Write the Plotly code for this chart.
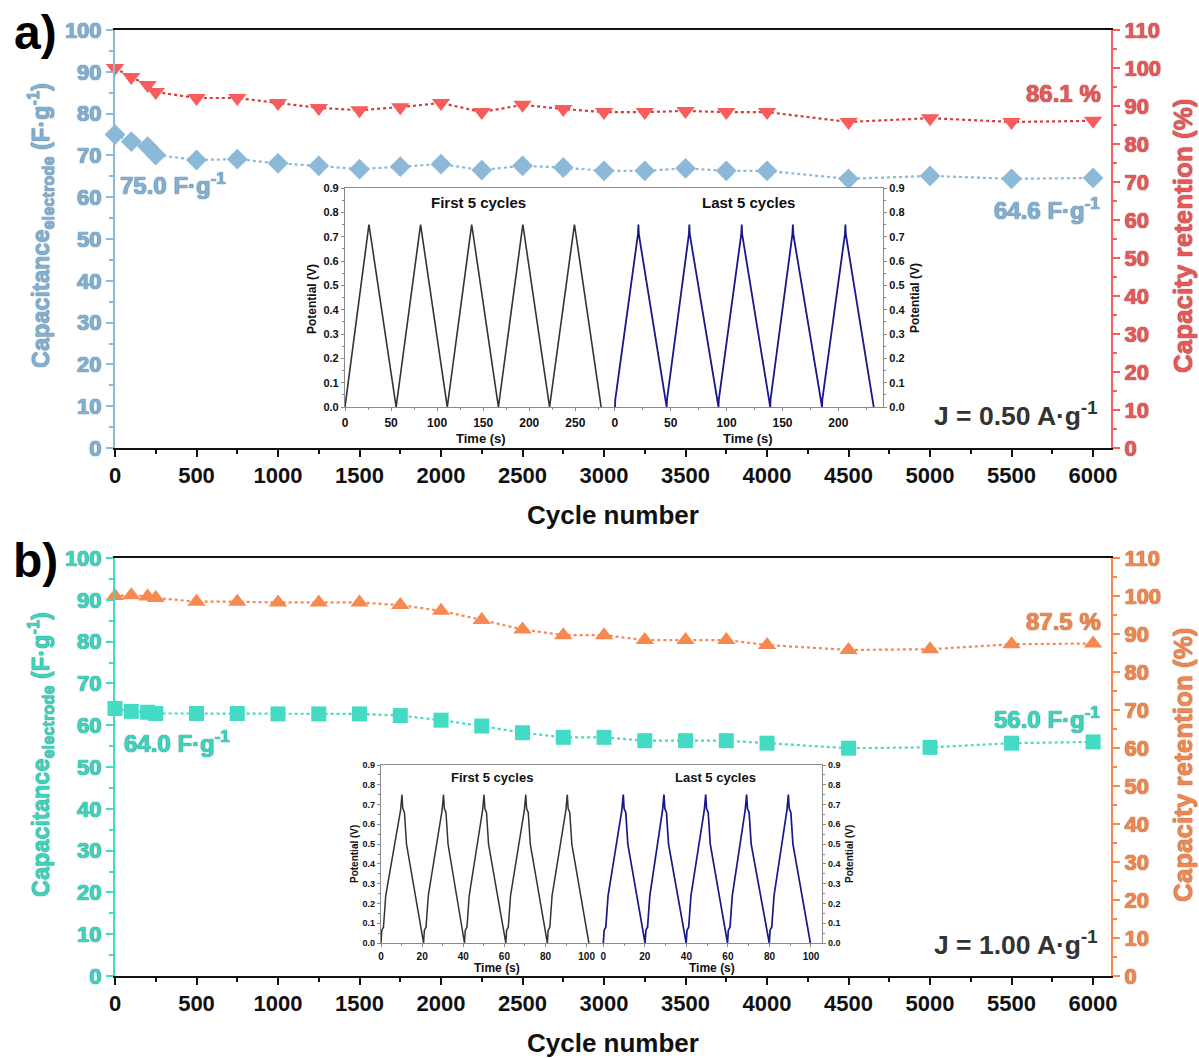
import plotly.graph_objects as go

W, H = 1199, 1059

# ---- cycling data -------------------------------------------------------
cycles = [0, 100, 200, 250, 500, 750, 1000, 1250, 1500, 1750, 2000, 2250,
          2500, 2750, 3000, 3250, 3500, 3750, 4000, 4500, 5000, 5500, 6000]

cap_a = [75.0, 73.3, 72.1, 70.1, 68.9, 69.1, 68.1, 67.5, 66.7, 67.3, 67.9, 66.5,
         67.5, 67.1, 66.3, 66.3, 66.9, 66.3, 66.3, 64.4, 65.1, 64.4, 64.6]
ret_a = [100.0, 97.6, 95.5, 93.7, 92.1, 92.1, 90.8, 89.5, 88.9, 89.7, 90.8, 88.4,
         90.3, 89.2, 88.4, 88.4, 88.7, 88.4, 88.4, 85.8, 86.8, 85.8, 86.1]

cap_b = [64.0, 63.3, 63.1, 62.8, 62.8, 62.8, 62.7, 62.7, 62.7, 62.3, 61.2, 59.8,
         58.2, 57.1, 57.1, 56.3, 56.3, 56.3, 55.7, 54.5, 54.7, 55.7, 56.0]
ret_b = [100.0, 100.2, 99.9, 99.5, 98.5, 98.5, 98.3, 98.3, 98.3, 97.6, 96.1, 93.7,
         91.2, 89.7, 89.7, 88.4, 88.4, 88.4, 87.1, 85.8, 86.0, 87.3, 87.5]

# ---- galvanostatic charge/discharge curves (insets) ----------------------
first_a_t = [0, 26, 55.5, 82, 111, 137.5, 166.5, 193, 222, 249, 278]
first_a_v = [0, 0.75, 0, 0.75, 0, 0.75, 0, 0.75, 0, 0.75, 0]

last_a_t = [0, 0.3, 20.6, 21, 21.4, 46.3, 46.6, 66.2, 66.6, 67.0,
            92.7, 93.0, 113.1, 113.5, 113.9, 139.0, 139.3, 158.9, 159.3, 159.7,
            185.4, 185.7, 205.9, 206.3, 206.7, 231.7]
last_a_v = [0, 0.03, 0.71, 0.75, 0.71, 0, 0.03, 0.71, 0.75, 0.71,
            0, 0.03, 0.71, 0.75, 0.71, 0, 0.03, 0.71, 0.75, 0.71,
            0, 0.03, 0.71, 0.75, 0.71, 0]

first_b_t = [0, 0.4, 1.2, 2.3, 9.5, 10.2, 10.6, 11.4, 12.4,
             20.7, 21.1, 21.9, 23.0, 29.7, 30.4, 30.8, 31.6, 32.6,
             40.6, 41.0, 41.8, 42.9, 49.4, 50.1, 50.5, 51.3, 52.3,
             60.7, 61.1, 61.9, 63.0, 69.7, 70.4, 70.8, 71.6, 72.6,
             80.9, 81.3, 82.1, 83.2, 89.9, 90.6, 91.0, 91.8, 92.8,
             101.1]
first_b_v = [0, 0.065, 0.08, 0.24, 0.67, 0.75, 0.68, 0.66, 0.50,
             0, 0.065, 0.08, 0.24, 0.67, 0.75, 0.68, 0.66, 0.50,
             0, 0.065, 0.08, 0.24, 0.67, 0.75, 0.68, 0.66, 0.50,
             0, 0.065, 0.08, 0.24, 0.67, 0.75, 0.68, 0.66, 0.50,
             0, 0.065, 0.08, 0.24, 0.67, 0.75, 0.68, 0.66, 0.50,
             0]

last_b_t = [0, 0.4, 1.2, 2.3, 8.9, 9.6, 10.0, 10.8, 11.8,
            20.1, 20.5, 21.3, 22.4, 28.5, 29.2, 29.6, 30.4, 31.4,
            39.9, 40.3, 41.1, 42.2, 48.6, 49.3, 49.7, 50.5, 51.5,
            59.8, 60.2, 61.0, 62.1, 68.3, 69.0, 69.4, 70.2, 71.2,
            79.9, 80.3, 81.1, 82.2, 88.4, 89.1, 89.5, 90.3, 91.3,
            99.7]
last_b_v = first_b_v

# ---- styling -------------------------------------------------------------
FONT = "Liberation Sans"
BLUE = "#8cb9d8"
BLUE_TXT = "#84afd0"
BLUE_EDGE = "#4e7899"
RED = "#f85c5c"
RED_LINE = "#d83a3a"
RED_TXT = "#e45a5a"
RED_EDGE = "#a83838"
TEAL = "#44dbc4"
TEAL_TXT = "#3fd3bd"
TEAL_EDGE = "#239080"
ORANGE = "#f7884f"
ORANGE_TXT = "#ef8752"
ORANGE_EDGE = "#b05a2c"
INK = "#111111"
GREY = "#8a8a8a"


def px(x):
    return x / W


def py(y):
    return 1 - y / H


def edge(c):
    return f"0px 0px 1px {c}, 0px 0px 1px {c}"


fig = go.Figure()

# main panels
fig.add_trace(go.Scatter(x=cycles, y=cap_a, xaxis="x", yaxis="y", mode="lines+markers",
                         line=dict(color=BLUE, dash="dot", width=2.2),
                         marker=dict(symbol="diamond", size=16, color=BLUE),
                         cliponaxis=False))
fig.add_trace(go.Scatter(x=cycles, y=ret_a, xaxis="x", yaxis="y2", mode="lines+markers",
                         line=dict(color=RED_LINE, dash="dot", width=2.2),
                         marker=dict(symbol="triangle-down", size=16, color=RED),
                         cliponaxis=False))
fig.add_trace(go.Scatter(x=cycles, y=cap_b, xaxis="x2", yaxis="y3", mode="lines+markers",
                         line=dict(color=TEAL, dash="dot", width=2.2),
                         marker=dict(symbol="square", size=15, color=TEAL),
                         cliponaxis=False))
fig.add_trace(go.Scatter(x=cycles, y=ret_b, xaxis="x2", yaxis="y4", mode="lines+markers",
                         line=dict(color=ORANGE, dash="dot", width=2.2),
                         marker=dict(symbol="triangle-up", size=16, color=ORANGE),
                         cliponaxis=False))

# insets
fig.add_trace(go.Scatter(x=first_a_t, y=first_a_v, xaxis="x3", yaxis="y5", mode="lines",
                         line=dict(color="#333333", width=1.6)))
fig.add_trace(go.Scatter(x=last_a_t, y=last_a_v, xaxis="x4", yaxis="y6", mode="lines",
                         line=dict(color="#18188a", width=1.8)))
fig.add_trace(go.Scatter(x=first_b_t, y=first_b_v, xaxis="x5", yaxis="y7", mode="lines",
                         line=dict(color="#333333", width=1.5)))
fig.add_trace(go.Scatter(x=last_b_t, y=last_b_v, xaxis="x6", yaxis="y8", mode="lines",
                         line=dict(color="#18188a", width=1.7)))


def main_x(y_anchor):
    return dict(domain=[px(115), px(1111)], anchor=y_anchor, range=[0, 6110],
                tick0=0, dtick=500, ticks="outside", ticklen=7, tickwidth=2,
                tickcolor=INK, showline=True, linecolor=INK, linewidth=2, mirror=True,
                minor=dict(dtick=250, ticks="outside", ticklen=4, tickwidth=1.5,
                           tickcolor=INK),
                tickfont=dict(family=FONT, size=22, color=INK, weight="bold"),
                showgrid=False, zeroline=False, automargin=False)


def main_y(x_anchor, top, bottom, rng, color, txt, edgec, side="left", overlay=None):
    d = dict(domain=[py(bottom), py(top)], anchor=x_anchor, range=rng, tick0=0,
             dtick=10, ticks="outside", ticklen=7, tickwidth=2, tickcolor=color,
             showline=True, linecolor=color, linewidth=2, side=side,
             minor=dict(dtick=5, ticks="outside", ticklen=4, tickwidth=1.5,
                        tickcolor=color),
             tickfont=dict(family=FONT, size=22, color=txt, weight="bold",
                           shadow=edge(edgec)),
             showgrid=False, zeroline=False, automargin=False)
    if overlay:
        d["overlaying"] = overlay
    return d


def inset_x(y_anchor, x0, x1, rng, dtick, minor, fs):
    return dict(domain=[px(x0), px(x1)], anchor=y_anchor, range=rng, tick0=0,
                dtick=dtick, ticks="outside", ticklen=3, tickwidth=1, tickcolor=GREY,
                showline=True, linecolor=GREY, linewidth=1.2, mirror=True,
                minor=dict(dtick=minor, ticks="outside", ticklen=2, tickcolor=GREY),
                tickfont=dict(family=FONT, size=fs, color=INK, weight="bold"),
                showgrid=False, zeroline=False, ticklabelstandoff=1, automargin=False)


def inset_y(x_anchor, top, bottom, side, fs):
    return dict(domain=[py(bottom), py(top)], anchor=x_anchor, range=[0, 0.9],
                tick0=0, dtick=0.1, tickformat=".1f", ticks="outside", ticklen=3,
                tickwidth=1, tickcolor=GREY, showline=True, linecolor=GREY,
                linewidth=1.2, side=side,
                minor=dict(dtick=0.05, ticks="outside", ticklen=2, tickcolor=GREY),
                tickfont=dict(family=FONT, size=fs, color=INK, weight="bold"),
                showgrid=False, zeroline=False, ticklabelstandoff=0, automargin=False)


layout = dict(
    width=W, height=H, autosize=False, margin=dict(l=0, r=0, t=0, b=0, pad=0),
    paper_bgcolor="white", plot_bgcolor="white", showlegend=False,
    xaxis=main_x("y"),
    yaxis=main_y("x", 30, 448, [0, 100], BLUE, BLUE_TXT, BLUE_EDGE),
    yaxis2=main_y("x", 30, 448, [0, 110], RED, RED_TXT, RED_EDGE, side="right", overlay="y"),
    xaxis2=main_x("y3"),
    yaxis3=main_y("x2", 558, 976, [0, 100], TEAL, TEAL_TXT, TEAL_EDGE),
    yaxis4=main_y("x2", 558, 976, [0, 110], ORANGE, ORANGE_TXT, ORANGE_EDGE, side="right", overlay="y3"),
    xaxis3=inset_x("y5", 345, 603, [0, 280], 50, 25, 12),
    yaxis5=inset_y("x3", 188, 407, "left", 11),
    xaxis4=inset_x("y6", 603, 883, [-10.7, 240], 50, 25, 12),
    yaxis6=inset_y("x4", 188, 407, "right", 11),
    xaxis5=inset_x("y7", 381, 600, [0, 106.5], 20, 10, 10),
    yaxis7=inset_y("x5", 765, 943, "left", 9),
    xaxis6=inset_x("y8", 600, 822, [-1.6, 105.3], 20, 10, 10),
    yaxis8=inset_y("x6", 765, 943, "right", 9),
)
fig.update_layout(**layout)


def note(text, x, y, size, color, xanchor="center", angle=0, shadow=None):
    f = dict(family=FONT, size=size, color=color, weight="bold")
    if shadow:
        f["shadow"] = shadow
    fig.add_annotation(text=text, x=px(x), y=py(y), xref="paper", yref="paper",
                       xanchor=xanchor, yanchor="middle", showarrow=False,
                       textangle=angle, font=f)


# panel letters
note("a)", 35, 32, 48, "#000000")
note("b)", 35, 560, 48, "#000000")

# axis titles
for yc_l, yc_r, xc, col, edc, rcol, redc in [
        (226, 236, 515, BLUE_TXT, BLUE_EDGE, RED_TXT, RED_EDGE),
        (755, 765, 1043, TEAL_TXT, TEAL_EDGE, ORANGE_TXT, ORANGE_EDGE)]:
    note("Capacitance<sub>electrode</sub> (F·g<sup>-1</sup>)", 40, yc_l, 23.5, col,
         angle=-90, shadow=edge(edc))
    note("Capacity retention (%)", 1183, yc_r, 26, rcol, angle=-90, shadow=edge(redc))
    note("Cycle number", 613, xc, 26, INK)

# value labels
note("75.0 F·g<sup>-1</sup>", 118, 184, 24, BLUE_TXT, xanchor="left", shadow=edge(BLUE_EDGE))
note("64.6 F·g<sup>-1</sup>", 1102, 209, 24, BLUE_TXT, xanchor="right", shadow=edge(BLUE_EDGE))
note("86.1 %", 1103, 93, 24, RED_TXT, xanchor="right", shadow=edge(RED_EDGE))
note("J = 0.50 A·g<sup>-1</sup>", 1100, 414, 26.5, "#333333", xanchor="right")

note("64.0 F·g<sup>-1</sup>", 122, 742, 24, TEAL_TXT, xanchor="left", shadow=edge(TEAL_EDGE))
note("56.0 F·g<sup>-1</sup>", 1102, 718, 24, TEAL_TXT, xanchor="right", shadow=edge(TEAL_EDGE))
note("87.5 %", 1103, 621, 24, ORANGE_TXT, xanchor="right", shadow=edge(ORANGE_EDGE))
note("J = 1.00 A·g<sup>-1</sup>", 1100, 943, 26.5, "#333333", xanchor="right")

# inset labels
note("First 5 cycles", 478, 203, 15, INK)
note("Last 5 cycles", 748, 203, 15, INK)
note("Time (s)", 481, 438, 13, INK)
note("Time (s)", 748, 438, 13, INK)
note("Potential (V)", 312, 299, 12, INK, angle=-90)
note("Potential (V)", 915, 298, 12, INK, angle=-90)

note("First 5 cycles", 492, 777, 13, INK)
note("Last 5 cycles", 715, 777, 13, INK)
note("Time (s)", 497, 968, 12, INK)
note("Time (s)", 712, 968, 12, INK)
note("Potential (V)", 354, 854, 10, INK, angle=-90)
note("Potential (V)", 849, 854, 10, INK, angle=-90)

# the page itself carries no margin so the figure fills the window exactly
fig.write_html("out.html",
               post_script="document.body.style.margin='0';"
                           "document.body.style.overflow='hidden';")
